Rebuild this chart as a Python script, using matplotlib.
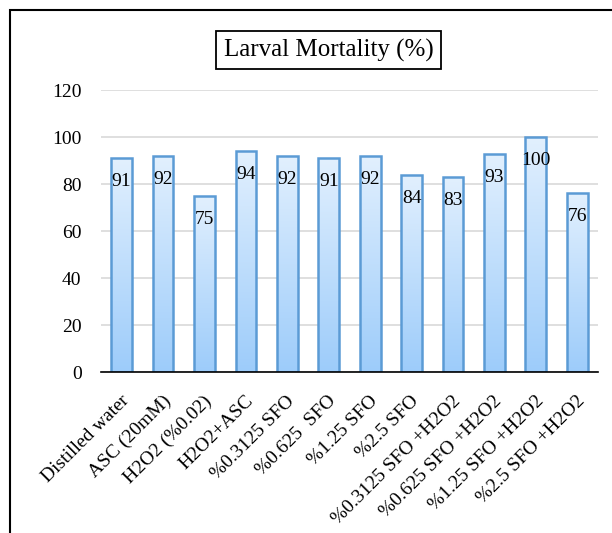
import matplotlib.pyplot as plt
import matplotlib.patches as mpatches
import matplotlib.transforms as mtransforms
from matplotlib.colors import LinearSegmentedColormap
import numpy as np

# Larval mortality per treatment
treatments = ['Distilled water', 'ASC (20mM)', 'H2O2 (%0.02)', 'H2O2+ASC',
              '%0.3125 SFO', '%0.625  SFO', '%1.25 SFO', '%2.5 SFO',
              '%0.3125 SFO +H2O2', '%0.625 SFO +H2O2', '%1.25 SFO +H2O2',
              '%2.5 SFO +H2O2']
mortality = [91, 92, 75, 94, 92, 91, 92, 84, 83, 93, 100, 76]

plt.rcParams['font.family'] = ['Liberation Serif', 'DejaVu Serif']

fig = plt.figure(figsize=(6.12, 5.33), dpi=100)
ax = fig.add_axes([0.165, 0.302, 0.812, 0.529])

x = np.arange(len(treatments))
bars = ax.bar(x, mortality, width=0.5, facecolor='none',
              edgecolor='#5b9bd5', linewidth=1.8, zorder=3)

# vertical gradient fill inside each bar
cmap = LinearSegmentedColormap.from_list('blues', ['#9dccfa', '#e2f0fe'])
grad = np.linspace(0, 1, 256).reshape(-1, 1)
for b in bars:
    x0, w, h = b.get_x(), b.get_width(), b.get_height()
    im = ax.imshow(grad, cmap=cmap, origin='lower', aspect='auto',
                   extent=(x0, x0 + w, 0, h), zorder=2)
    im.set_clip_path(b)

for xi, v in zip(x, mortality):
    ax.text(xi, v - 10, str(v), ha='center', va='center', fontsize=14,
            zorder=4)

ax.set_xlim(-0.5, len(treatments) - 0.5)
ax.set_ylim(0, 120)
ax.set_yticks(range(0, 121, 20))
ax.yaxis.grid(True, color='#d9d9d9', linewidth=1.2, zorder=0)
ax.set_axisbelow(True)
for s in ['top', 'right', 'left']:
    ax.spines[s].set_visible(False)
ax.spines['bottom'].set_color('black')
ax.spines['bottom'].set_linewidth(1.2)
ax.spines['bottom'].set_zorder(5)
ax.tick_params(axis='both', length=0, labelsize=14)
ax.tick_params(axis='y', pad=14)
ax.set_xticks(x)
ax.set_xticklabels(treatments, rotation=45, ha='right', va='center',
                   rotation_mode='anchor')
ax.tick_params(axis='x', pad=14)
# nudge the rotated labels a little right and down
shift = mtransforms.ScaledTranslation(5 / 100, -7 / 100, fig.dpi_scale_trans)
for lbl in ax.get_xticklabels():
    lbl.set_transform(lbl.get_transform() + shift)

fig.text(0.537, 0.906, 'Larval Mortality (%)', ha='center', va='center',
         fontsize=18,
         bbox=dict(boxstyle='square,pad=0.3', facecolor='white',
                   edgecolor='black', linewidth=1.3))

# outer frame around the chart
frame = mpatches.Rectangle((10 / 612, -0.1), 1.1, 1 - 10 / 533 + 0.1,
                           transform=fig.transFigure, fill=False,
                           edgecolor='black', linewidth=1.5, clip_on=False)
fig.patches.append(frame)

fig.savefig('out.png', dpi=100)
